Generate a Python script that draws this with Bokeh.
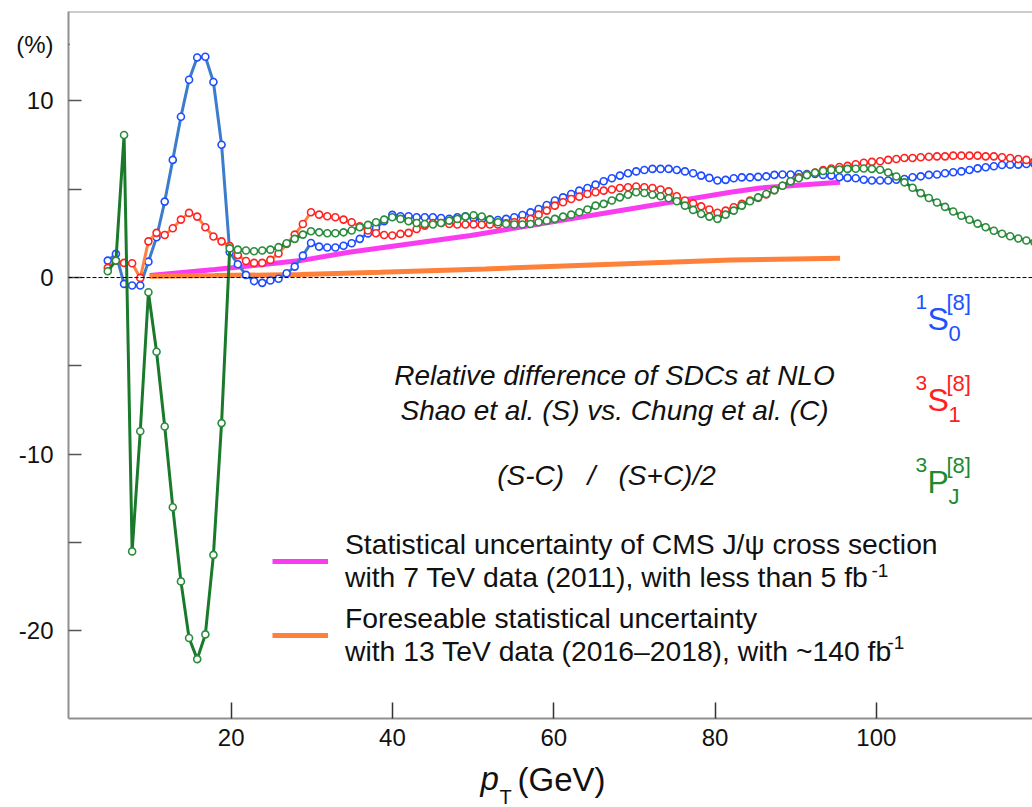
from bokeh.plotting import figure
from bokeh.models import Label, Span, FixedTicker, Legend, LegendItem, Range1d, BoxAnnotation
from bokeh.layouts import column
from bokeh.embed import file_html
from bokeh.resources import INLINE

# ---------------- data ----------------
pt = [4.70, 5.71, 6.72, 7.72, 8.73, 9.74, 10.75, 11.76, 12.76, 13.77,
      14.78, 15.79, 16.80, 17.80, 18.81, 19.82, 20.83, 21.84, 22.84, 23.85,
      24.86, 25.87, 26.88, 27.88, 28.89, 29.90, 30.91, 31.92, 32.92, 33.93,
      34.94, 35.95, 36.96, 37.96, 38.97, 39.98, 40.99, 42.00, 43.00, 44.01,
      45.02, 46.03, 47.04, 48.04, 49.05, 50.06, 51.07, 52.08, 53.08, 54.09,
      55.10, 56.11, 57.12, 58.12, 59.13, 60.14, 61.15, 62.16, 63.16, 64.17,
      65.18, 66.19, 67.20, 68.20, 69.21, 70.22, 71.23, 72.24, 73.24, 74.25,
      75.26, 76.27, 77.28, 78.28, 79.29, 80.30, 81.31, 82.32, 83.32, 84.33,
      85.34, 86.35, 87.36, 88.36, 89.37, 90.38, 91.39, 92.40, 93.40, 94.41,
      95.42, 96.43, 97.44, 98.44, 99.45, 100.46, 101.47, 102.48, 103.48, 104.49,
      105.50, 106.51, 107.52, 108.52, 109.53, 110.54, 111.55, 112.56, 113.56, 114.57,
      115.58, 116.59, 117.60, 118.60, 119.61]

s1s0 = [0.96, 1.34, -0.36, -0.45, -0.45, 0.90, 2.28, 4.30, 6.66, 9.10,
        11.20, 12.46, 12.50, 11.07, 7.52, 1.45, 0.75, 0.15, -0.20, -0.30,
        -0.17, -0.07, 0.24, 0.62, 1.24, 1.96, 1.75, 1.70, 1.70, 1.80,
        1.94, 2.19, 2.50, 2.81, 3.19, 3.55, 3.47, 3.47, 3.41, 3.41,
        3.41, 3.37, 3.33, 3.41, 3.47, 3.37, 3.27, 3.28, 3.26, 3.32,
        3.41, 3.54, 3.69, 3.88, 4.11, 4.36, 4.54, 4.73, 4.92, 5.07,
        5.26, 5.45, 5.62, 5.77, 5.90, 6.01, 6.09, 6.15, 6.15, 6.15,
        6.09, 6.01, 5.90, 5.77, 5.64, 5.49, 5.53, 5.62, 5.67, 5.67,
        5.70, 5.73, 5.81, 5.83, 5.83, 5.86, 5.86, 5.86, 5.81, 5.77,
        5.68, 5.64, 5.62, 5.54, 5.49, 5.49, 5.49, 5.54, 5.58, 5.68,
        5.73, 5.81, 5.83, 5.90, 5.96, 6.01, 6.09, 6.18, 6.24, 6.30,
        6.37, 6.39, 6.39, 6.43, 6.43]

s3s1 = [0.55, 0.96, 0.83, 0.81, -0.02, 2.05, 2.53, 2.41, 2.79, 3.28,
        3.66, 3.45, 2.85, 2.32, 2.05, 1.78, 1.27, 0.94, 0.83, 0.83,
        1.00, 1.36, 1.90, 2.43, 3.03, 3.70, 3.56, 3.47, 3.41, 3.28,
        3.13, 2.90, 2.66, 2.51, 2.41, 2.38, 2.47, 2.53, 2.75, 2.94,
        3.09, 3.09, 3.03, 3.00, 3.00, 3.01, 2.99, 3.00, 3.00, 3.07,
        3.13, 3.19, 3.32, 3.56, 3.79, 4.07, 4.26, 4.45, 4.58, 4.73,
        4.83, 4.92, 4.98, 5.07, 5.11, 5.15, 5.11, 5.07, 4.98, 4.88,
        4.60, 4.36, 4.20, 4.03, 3.85, 3.67, 3.79, 3.98, 4.17, 4.36,
        4.50, 4.70, 4.95, 5.20, 5.45, 5.68, 5.82, 5.95, 6.08, 6.17,
        6.26, 6.32, 6.41, 6.50, 6.55, 6.58, 6.66, 6.71, 6.77, 6.77,
        6.81, 6.84, 6.86, 6.86, 6.90, 6.90, 6.90, 6.90, 6.86, 6.86,
        6.81, 6.77, 6.71, 6.66, 6.58]

s3pj = [0.36, 0.96, 8.07, -15.5, -8.7, -0.83, -4.2, -8.43, -13.0, -17.2,
        -20.4, -21.6, -20.2, -15.7, -8.24, 1.65, 1.58, 1.53, 1.49, 1.53,
        1.58, 1.72, 1.94, 2.19, 2.43, 2.62, 2.56, 2.51, 2.51, 2.56,
        2.66, 2.85, 2.98, 3.13, 3.28, 3.41, 3.32, 3.19, 3.09, 3.03,
        3.00, 3.09, 3.22, 3.32, 3.45, 3.53, 3.46, 3.28, 3.13, 3.03,
        3.00, 3.00, 3.03, 3.13, 3.22, 3.32, 3.45, 3.56, 3.70, 3.85,
        4.07, 4.17, 4.36, 4.54, 4.69, 4.83, 4.79, 4.69, 4.60, 4.49,
        4.32, 4.07, 3.83, 3.60, 3.45, 3.32, 3.56, 3.79, 4.07, 4.32,
        4.54, 4.73, 4.95, 5.20, 5.45, 5.62, 5.80, 5.93, 6.03, 6.09,
        6.12, 6.15, 6.16, 6.17, 6.15, 6.10, 5.95, 5.72, 5.39, 5.08,
        4.78, 4.50, 4.25, 4.00, 3.74, 3.50, 3.27, 3.05, 2.85, 2.65,
        2.48, 2.34, 2.21, 2.10, 2.00]

cms_pt = [9.9, 18.0, 28.6, 34.6, 49.7, 81.9, 85.6, 95.5]
cms_unc = [0.11, 0.45, 0.96, 1.43, 2.38, 4.83, 5.07, 5.39]
fut_pt = [9.9, 18.0, 28.6, 38.5, 51.5, 81.9, 95.5]
fut_unc = [0.08, 0.11, 0.17, 0.30, 0.49, 1.00, 1.09]

UNIT_POS = 13.22   # where the "(%)" unit sits on the y axis
y_ticks = [-20, -15, -10, -5, 0, 5, 10, UNIT_POS]
y_tick_labels = {-20: "-20", -15: "", -10: "-10", -5: "", 0: "0", 5: "", 10: "10", UNIT_POS: "(%)"}
x_ticks = [20, 40, 60, 80, 100]

# ---------------- main figure ----------------
XMIN, XMAX = -0.17, 119.36
YMIN, YMAX = -24.96, 15.06
FL, FT, FW, FH = 68, 11, 964, 707   # frame position on the page (px)
MAIN_H = 760
FONT = "Liberation Sans"

p = figure(width=1032, height=MAIN_H, x_range=Range1d(XMIN, XMAX), y_range=Range1d(YMIN, YMAX),
           output_backend="svg", toolbar_location=None,
           min_border_left=FL, min_border_right=0, min_border_top=FT,
           min_border_bottom=MAIN_H - FT - FH)
p.outline_line_color = None
p.xgrid.visible = False
p.ygrid.visible = False
p.background_fill_color = "white"

for ax in (p.xaxis[0], p.yaxis[0]):
    ax.axis_line_color = "#8f8f8f"
    ax.axis_line_width = 2
    ax.major_tick_out = 0
    ax.minor_tick_line_color = None
    ax.major_label_text_font = FONT
    ax.major_label_text_font_size = "24px"
    ax.major_label_text_color = "#111111"
    ax.major_tick_line_width = 1.5

p.xaxis.ticker = FixedTicker(ticks=x_ticks)
p.xaxis.major_tick_in = 16
p.xaxis.major_tick_line_color = "#333333"
p.xaxis.major_label_standoff = 10

p.yaxis.ticker = FixedTicker(ticks=y_ticks)
p.yaxis.major_label_overrides = y_tick_labels
p.yaxis.major_tick_in = 13
p.yaxis.major_tick_line_color = "#555555"
p.yaxis.major_label_standoff = 15


def X(px):
    return XMIN + (px - FL) / FW * (XMAX - XMIN)


# hide the tick mark that carries the "(%)" unit label
p.add_layout(BoxAnnotation(left=X(69.3), right=X(86), bottom=UNIT_POS - 0.2, top=UNIT_POS + 0.2,
                           fill_color="white", fill_alpha=1.0, line_color=None))

p.add_layout(Span(location=YMAX, dimension="width", line_color="#9a9a9a", line_width=2))
p.add_layout(Span(location=0, dimension="width", line_color="black", line_width=1, line_dash="4 2"))

# uncertainty lines
mag = p.line(cms_pt, cms_unc, line_color="#fa3cf0", line_width=5)
org = p.line(fut_pt, fut_unc, line_color="#ff8038", line_width=5)

# the three SDC curves
series = [
    (s1s0, "#3b7dcc", "#1f4cff"),
    (s3s1, "#ff8040", "#ff2222"),
    (s3pj, "#1a7a2c", "#2a8c3c"),
]
for ys, lc, mc in series:
    p.line(pt, ys, line_color=lc, line_width=3)
    p.scatter(pt, ys, marker="circle", size=7, line_color=mc, line_width=1.6, fill_color="white")

legend = Legend(items=[
    LegendItem(label="Statistical uncertainty of CMS J/\u03c8 cross section\nwith 7 TeV data (2011), with less than 5 fb", renderers=[mag]),
    LegendItem(label="Foreseable statistical uncertainty\nwith 13 TeV data (2016\u20132018), with ~140 fb", renderers=[org]),
], location=(204, 50), glyph_width=56, glyph_height=20, label_standoff=17,
    label_text_font=FONT, label_text_font_size="28.3px", label_text_color="#111111",
    label_text_line_height=1.18, padding=0, margin=0, spacing=8,
    border_line_color=None, background_fill_alpha=0)
p.add_layout(legend)


def lab(text, px, base, size, color="#111111", style="normal", align="left"):
    """Text in the main plot, placed by page pixel x and page baseline y."""
    mid = base - 0.35 * size
    p.add_layout(Label(x=px - FL, y=(FT + FH) - mid, x_units="screen", y_units="screen",
                       text=text, text_font=FONT, text_font_size=f"{size}px",
                       text_color=color, text_font_style=style, text_align=align,
                       text_baseline="middle"))


# centre annotation
lab("Relative difference of SDCs at NLO", 614, 385, 28, style="italic", align="center")
lab("Shao et al. (S) vs. Chung et al. (C)", 614, 420, 28, style="italic", align="center")
lab("(S-C)\u00a0\u00a0\u00a0/\u00a0\u00a0\u00a0(S+C)/2", 606, 485, 28, style="italic", align="center")

# fb^-1 superscripts
lab("-1", 871, 577, 19)
lab("-1", 887, 649, 19)

# state labels
states = [("1", "S", "0", "#2050ff", 0), ("3", "S", "1", "#ff2020", 81), ("3", "P", "J", "#1e8a2e", 163)]
for pre, main, sub, col, dyv in states:
    lab(pre, 915, 309 + dyv, 21, color=col)
    lab(main, 927, 330 + dyv, 32, color=col)
    lab("[8]", 946, 310 + dyv, 22, color=col)
    lab(sub, 948, 341 + dyv, 22, color=col)

# ---------------- x-axis title strip (same x scale as the main plot) ----------------
t = figure(width=1032, height=807 - MAIN_H, x_range=Range1d(XMIN, XMAX), y_range=Range1d(807, MAIN_H),
           output_backend="svg", toolbar_location=None, x_axis_location=None, y_axis_location=None,
           min_border=0, min_border_left=FL, min_border_right=0, min_border_top=0, min_border_bottom=0)
t.outline_line_color = None
t.background_fill_color = "white"
t.grid.visible = False


def tlab(text, px, base, size, style="normal"):
    t.add_layout(Label(x=X(px), y=base - 0.35 * size, text=text, text_font=FONT,
                       text_font_size=f"{size}px", text_color="#111111",
                       text_font_style=style, text_align="left", text_baseline="middle"))


tlab("p", 480, 790, 33, style="italic")
tlab("T", 499, 803, 20)
tlab("(GeV)", 517, 791, 33)

open("out.html", "w").write(file_html(column(p, t, spacing=0), INLINE))
